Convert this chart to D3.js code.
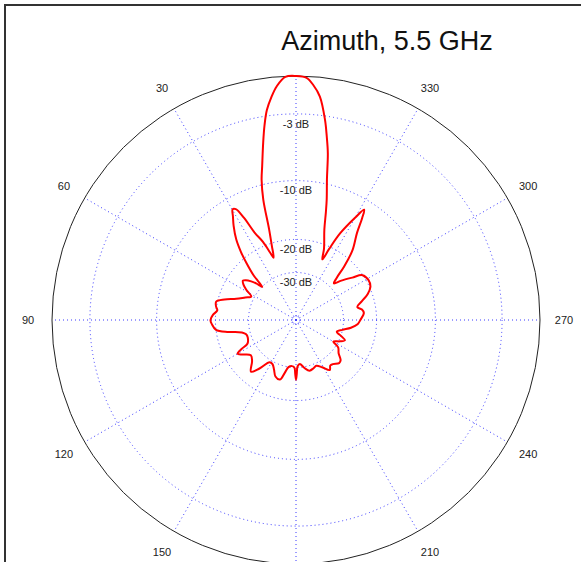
<!DOCTYPE html>
<html>
<head>
<meta charset="utf-8">
<script src="https://cdn.jsdelivr.net/npm/d3@7"></script>
<style>
    body { margin: 0; background: #fff; }
    svg { display: block; font-family: "Liberation Sans", Arial, sans-serif; }
</style>
</head>
<body>
<svg id="chart" width="581" height="562"></svg>
<script>
// measured azimuth pattern, angle counter-clockwise from top (deg) -> gain (dB)
const angles = [0, 2.5, 4.7, 6.3, 7.9, 9.2, 10.5, 12.4, 13.8, 15.2, 16.5, 18, 19.8, 21, 23, 25.3, 27, 28.5, 29.8, 31.3,
    33.5, 36.6, 39, 41, 43.5, 45.5, 47.5, 49.2, 51.5, 53.5, 56, 58.7, 62.3, 66, 70.5, 74, 77, 80.5, 83, 86.5,
    90, 93, 97, 100, 103, 106, 110, 116, 118, 120, 123, 128, 133, 139, 143, 148, 152, 156, 160, 165,
    168, 171, 175, 178, 179.2, 180, 180.8, 182, 185, 190, 195, 200, 204, 209, 214, 217, 220, 225, 228, 232,
    237, 240, 244, 247.5, 250, 254, 258, 262, 266, 270, 276, 279, 282, 286, 290, 294, 299, 304, 307, 311,
    314, 316, 318, 321, 325, 327, 328.3, 330, 333, 335, 336.5, 338.5, 342.6, 344.5, 345.7, 347.6, 349.2, 350.5, 351.75, 353.9,
    355.8, 357.5];
const gainDb = [0, -0.05, -0.7, -1.5, -2.5, -3.8, -5.4, -7.8, -9.4, -12.0, -17.0, -20.5, -23.7, -22, -19, -16.7, -13.5, -11.8, -11.6, -12.5,
    -13.8, -16.0, -18.5, -21.2, -25, -30.1, -27.5, -25.8, -24.3, -23.7, -24.5, -26.1, -28.8, -27, -24.5, -21.5, -19.7, -19.9, -20.3, -19.4,
    -18.9, -19.2, -20.0, -23, -27, -28.3, -28.5, -27.5, -25, -23.3, -24.5, -26.4, -25.5, -23.0, -25.3, -29.1, -29, -27.5, -25.5, -25.0,
    -27.5, -29.9, -30.5, -30, -27.5, -25.6, -27.5, -30.5, -31.4, -29.5, -28.1, -28.5, -29, -27.5, -25.4, -26.5, -26.3, -25.2, -25.5, -27.5,
    -28.9, -31.9, -29.5, -27.9, -29.5, -32.2, -30, -27, -25, -24.2, -23.1, -23.5, -24.7, -23, -21, -19.8, -19.5, -20.1, -22.5, -25.5,
    -28, -26, -22.1, -18, -14.9, -12.5, -11.3, -13, -16.5, -20.5, -23.7, -21, -17.0, -14, -12.07, -9.4, -6.45, -4.8, -3.34, -1.46,
    -0.62, -0.12];

const ringDb = [-3, -10, -20, -30];
const ringLabels = ["-3 dB", "-10 dB", "-20 dB", "-30 dB"];
const spokeAngles = [0, 30, 60, 90, 120, 150, 180, 210, 240, 270, 300, 330];
const angleLabels = [30, 60, 90, 120, 150, 210, 240, 270, 300, 330];
const title = "Azimuth, 5.5 GHz";

const svg = d3.select("#chart");
const cx = 296, cy = 320, R = 244;

// log-like radial scale (ARRL style): radius grows with 10^(dB/40)
const rLin = d3.scaleLinear().domain([0, 1]).range([5, R]);
const r = db => rLin(Math.pow(10, db / 40));
const rad = deg => deg * Math.PI / 180;

// frame
svg.append("rect")
    .attr("x", 5).attr("y", 5)
    .attr("width", 600).attr("height", 600)
    .attr("fill", "none")
    .attr("stroke", "#333")
    .attr("stroke-width", 2);

const g = svg.append("g").attr("transform", `translate(${cx},${cy})`);

// grid rings
g.selectAll(".ring")
    .data(ringDb)
    .enter()
    .append("circle")
    .attr("r", d => r(d))
    .attr("fill", "none")
    .attr("stroke", "#3a3aff")
    .attr("stroke-width", 1)
    .attr("stroke-dasharray", "1,3");

g.append("circle")
    .attr("r", 4)
    .attr("fill", "none")
    .attr("stroke", "#3a3aff")
    .attr("stroke-dasharray", "1,2");

// spokes
g.selectAll(".spoke")
    .data(spokeAngles)
    .enter()
    .append("line")
    .attr("x1", 0).attr("y1", 0)
    .attr("x2", d => -R * Math.sin(rad(d)))
    .attr("y2", d => -R * Math.cos(rad(d)))
    .attr("stroke", "#3a3aff")
    .attr("stroke-width", 1)
    .attr("stroke-dasharray", "1,3");

// outer circle
g.append("circle")
    .attr("r", R)
    .attr("fill", "none")
    .attr("stroke", "#222")
    .attr("stroke-width", 1);

// pattern
const pts = angles.map((a, i) => ({ a: a, db: gainDb[i] }));
const line = d3.lineRadial()
    .angle(d => -rad(d.a))
    .radius(d => r(d.db))
    .curve(d3.curveCatmullRomClosed.alpha(0.5));

g.append("path")
    .attr("d", line(pts))
    .attr("fill", "none")
    .attr("stroke", "#ff0000")
    .attr("stroke-width", 2);

// ring labels
g.selectAll(".ring-label")
    .data(ringDb)
    .enter()
    .append("text")
    .attr("x", 0)
    .attr("y", d => -r(d) + 10)
    .attr("dy", "0.35em")
    .attr("text-anchor", "middle")
    .style("font-size", "11px")
    .attr("fill", "#222")
    .text((d, i) => ringLabels[i]);

// angle labels
g.selectAll(".angle-label")
    .data(angleLabels)
    .enter()
    .append("text")
    .attr("x", d => -268 * Math.sin(rad(d)))
    .attr("y", d => -268 * Math.cos(rad(d)))
    .attr("dy", "0.35em")
    .attr("text-anchor", "middle")
    .style("font-size", "11px")
    .attr("fill", "#222")
    .text(d => d);

// title
svg.append("text")
    .attr("x", 387)
    .attr("y", 50)
    .attr("text-anchor", "middle")
    .style("font-size", "27px")
    .attr("fill", "#111")
    .text(title);
</script>
</body>
</html>
